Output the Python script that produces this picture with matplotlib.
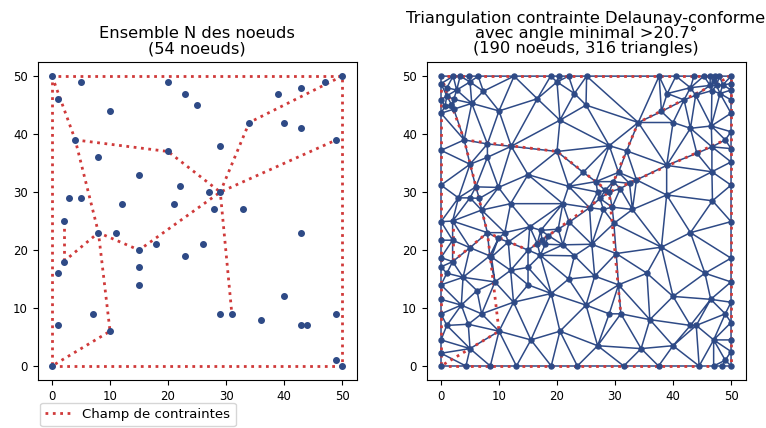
import numpy as np
import matplotlib
matplotlib.use("Agg")
import matplotlib.pyplot as plt
import matplotlib.tri as mtri

# ---------------- data ----------------
# original node set (54 nodes)
nodes_x = [0, 5, 20, 23, 25, 1, 10, 4, 20, 8, 15, 22, 3, 5, 12, 21, 50, 47, 43, 39,
           34, 40, 43, 49, 29, 27, 29, 28, 33, 2, 8, 11, 15, 18, 23, 2, 1, 15, 15, 7,
           1, 10, 0, 43, 26, 40, 29, 31, 36, 43, 44, 49, 49, 50]
nodes_y = [50, 49, 49, 47, 45, 46, 44, 39, 37, 36, 33, 31, 29, 29, 28, 28, 50, 49, 48, 47,
           42, 42, 41, 39, 38, 30, 30, 27, 27, 25, 23, 23, 20, 21, 19, 18, 16, 17, 14, 9,
           7, 6, 0, 23, 21, 12, 9, 9, 8, 7, 7, 9, 1, 0]

# constraint polylines
constraints = [
    [(0, 0), (50, 0), (50, 50), (0, 50), (0, 0)],
    [(0, 50), (4, 39), (8, 23), (10, 6), (0, 0)],
    [(4, 39), (20, 37), (29, 30)],
    [(50, 50), (34, 42), (29, 30), (31, 9)],
    [(2, 18), (8, 23), (15, 20), (29, 30), (49, 39)],
    [(2, 25), (2, 18)],
]

# nodes of the conforming triangulation
mesh_pts = [
    # top edge
    (0, 50), (2.1, 50), (3.3, 50), (4.9, 50), (6.4, 50), (12.6, 50), (18.9, 50), (20.3, 50),
    (22, 50), (25.1, 50), (37.6, 50), (40.5, 50), (43.6, 50), (45.3, 50), (46.4, 50),
    (47.2, 50), (48, 50), (50, 50),
    # left edge
    (0, 48.7), (0, 45.9), (0, 43.6), (0, 37.2), (0, 31.2), (0, 24.9), (0, 21.7), (0, 18.7),
    (0, 17.1), (0, 14), (0, 11.5), (0, 9), (0, 4.5), (0, 2.2), (0, 0),
    # right edge
    (50, 48.7), (50, 47.6), (50, 45.9), (50, 43.6), (50, 40.4), (50, 37.5), (50, 35.2),
    (50, 31.2), (50, 24.9), (50, 18.6), (50, 14.5), (50, 11), (50, 7.5), (50, 4.5),
    (50, 2.5), (50, 0),
    # bottom edge
    (4.3, 0), (8.5, 0), (13, 0), (19, 0), (23.5, 0), (31.5, 0), (37.5, 0), (44.5, 0),
    (47, 0), (48.5, 0),
    # top-left cluster
    (1, 48), (2.7, 47.6), (1, 46.6), (2.2, 46), (1.8, 45.1), (0.7, 44.8), (2.2, 44.3),
    (5, 49), (5.3, 45.3), (7.3, 47.4), (10, 44), (16.6, 46.1), (20, 49), (23, 47), (25, 45),
    (20.5, 42.4), (4, 39), (8, 38.3), (12.1, 37.9), (8, 36), (5, 34.8), (15, 33), (20, 37),
    (29, 38), (32, 37.1), (24.5, 33.4), (30.6, 33.4), (34, 42),
    # top-right
    (39, 47), (43, 48), (43.9, 46.7), (41.9, 45.9), (38, 43.9), (40, 42), (43, 41),
    (46.6, 41.4), (49, 39), (44.1, 36.7), (46.7, 37.8), (38.9, 34.6), (46.7, 33.5),
    (46.4, 48.4), (47.5, 48.4), (48.6, 48.5), (46.7, 47.5), (48.1, 47), (47, 49.1),
    # middle-left
    (6, 30.9), (9.9, 30.8), (3, 29), (5, 29), (6.6, 28.9), (12, 28), (7, 26.9), (2, 25),
    (8, 23), (11, 23), (9.9, 22), (11.6, 21.4), (15.3, 24), (16.6, 21.1), (2, 21.7),
    (5, 20.4), (8.4, 19), (15, 20), (2, 18), (1, 16), (15, 17),
    # middle
    (22, 31), (26.7, 31.8), (29.7, 31.8), (32.5, 31.5), (33.7, 32.1), (27, 30), (28.3, 30.3),
    (29, 30), (30.9, 30.6), (27.4, 28.9), (21, 28), (25.6, 27.3), (28, 27), (29.5, 27.4),
    (33, 27), (22.1, 24.8), (29.8, 24.6), (17.2, 23.4), (20.2, 23.6), (18.5, 22.5),
    (17.4, 21.8), (18, 21), (21, 20.9), (26, 21), (17.1, 19.1), (23, 19), (30.2, 19.4),
    (43, 23), (38.9, 29.5), (46.8, 28.5),
    # lower part
    (15, 14), (7, 9), (1, 7), (10, 6), (40, 12), (29, 9), (31, 9), (36, 8), (43, 7), (44, 7),
    (49, 9), (49, 1), (9.3, 14.5), (8.7, 18.8), (5, 3), (30.6, 14), (3.8, 15.3),
    (6.2, 13), (12.5, 11), (19, 12.5), (20.5, 6), (25, 10.5), (26.5, 15.5), (35.5, 16),
    (38, 20.5), (45.5, 16), (46.5, 11.5), (40, 3.5), (15.5, 4.5), (27, 3.5), (34.5, 3),
    (47, 4.5), (3.5, 10.5), (12, 16.5), (4.7, 7.2), (22, 15),
]
mesh_x = [p[0] for p in mesh_pts]
mesh_y = [p[1] for p in mesh_pts]

BLUE = '#2e4a86'
RED = '#d03a3a'

fig = plt.figure(figsize=(7.66, 4.28), dpi=100)
ax1 = fig.add_axes([0.049, 0.111, 0.4165, 0.745])
ax2 = fig.add_axes([0.5568, 0.111, 0.4165, 0.745])

def draw_constraints(ax, label=None):
    first = True
    for seg in constraints:
        xs = [p[0] for p in seg]
        ys = [p[1] for p in seg]
        ax.plot(xs, ys, ':', color=RED, lw=2, zorder=3,
                label=label if first else None)
        first = False

draw_constraints(ax1, 'Champ de contraintes')
ax1.scatter(nodes_x, nodes_y, s=16, color=BLUE, zorder=4)

tri = mtri.Triangulation(mesh_x, mesh_y)
ax2.triplot(tri, '-', color=BLUE, lw=1.1, zorder=2)
draw_constraints(ax2)
ax2.plot(mesh_x, mesh_y, 'o', color=BLUE, ms=3.6, zorder=4, lw=0)

for ax in (ax1, ax2):
    ax.set_xlim(-2.5, 52.5)
    ax.set_ylim(-2.5, 52.5)
    ax.set_xticks([0, 10, 20, 30, 40, 50])
    ax.set_yticks([0, 10, 20, 30, 40, 50])
    ax.tick_params(labelsize=8.5)

tfont = dict(fontsize=11.7, linespacing=1.0)
ax1.set_title('Ensemble N des noeuds\n(54 noeuds)', **tfont)
ax2.set_title('Triangulation contrainte Delaunay-conforme\navec angle minimal >20.7°\n'
              '(190 noeuds, 316 triangles)', **tfont)

ax1.legend(loc='upper left', bbox_to_anchor=(0.008, -0.07), borderaxespad=0,
           fontsize=9.5, frameon=True)

fig.savefig('out.png', dpi=100)
